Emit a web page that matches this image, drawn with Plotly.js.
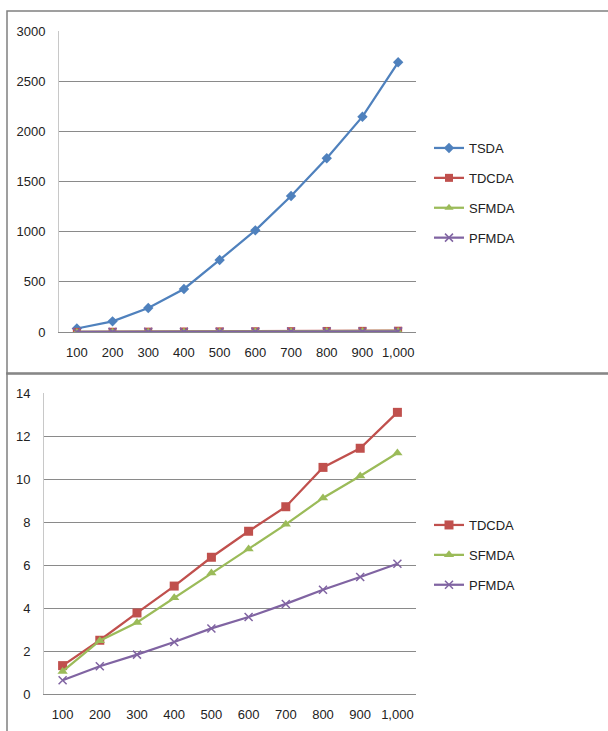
<!DOCTYPE html>
<html>
<head>
<meta charset="utf-8">
<script src="https://cdn.plot.ly/plotly-3.0.1.min.js"></script>
<style>html,body{margin:0;padding:0;background:#fff;}#chart{width:608px;height:731px;}</style>
</head>
<body>
<div id="chart"></div>
<script>
// ---- data ----
const categories = ['100','200','300','400','500','600','700','800','900','1,000'];
const tsda  = [35, 106, 239, 429, 718, 1013, 1355, 1731, 2146, 2688];
const tdcda = [1.32, 2.50, 3.77, 5.02, 6.36, 7.57, 8.71, 10.54, 11.43, 13.10];
const sfmda = [1.05, 2.48, 3.33, 4.48, 5.63, 6.74, 7.89, 9.12, 10.14, 11.21];
const pfmda = [0.64, 1.29, 1.83, 2.42, 3.05, 3.58, 4.19, 4.85, 5.44, 6.06];
const topYTicks = [0, 500, 1000, 1500, 2000, 2500, 3000];
const bottomYTicks = [0, 2, 4, 6, 8, 10, 12, 14];

// ---- styles ----
const C = {tsda:'#4F81BD', tdcda:'#C0504D', sfmda:'#9BBB59', pfmda:'#8064A2'};
const W = 608, H = 731;
const px = v => v / W;
const py = v => 1 - v / H;
const FONT = {family:'"Liberation Sans", Arial, sans-serif', size:13, color:'#222'};

function series(name, y, color, symbol, xa, ya, leg, grp, size) {
  const m = {symbol:symbol, size:size, color:color};
  if (symbol.indexOf('x-thin') === 0) { m.line = {color:color, width:1.5}; }
  return {
    type:'scatter', mode:'lines+markers', name:name, x:categories, y:y,
    xaxis:xa, yaxis:ya, legend:leg, legendgroup:grp,
    line:{color:color, width:2.25}, marker:m
  };
}

const data = [
  series('TSDA',  tsda,  C.tsda,  'diamond',     'x',  'y',  'legend',  'a1', 8),
  series('TDCDA', tdcda, C.tdcda, 'square',      'x',  'y',  'legend',  'a2', 8),
  series('SFMDA', sfmda, C.sfmda, 'triangle-up', 'x',  'y',  'legend',  'a3', 8),
  series('PFMDA', pfmda, C.pfmda, 'x-thin',      'x',  'y',  'legend',  'a4', 8),
  series('TDCDA', tdcda, C.tdcda, 'square',      'x2', 'y2', 'legend2', 'b2', 9),
  series('SFMDA', sfmda, C.sfmda, 'triangle-up', 'x2', 'y2', 'legend2', 'b3', 9),
  series('PFMDA', pfmda, C.pfmda, 'x-thin',      'x2', 'y2', 'legend2', 'b4', 8)
];

const xBase = {
  type:'category', categoryarray:categories, range:[-0.5, 9.5],
  showgrid:false, zeroline:false, showline:true, linecolor:'#8a8a8a', linewidth:1,
  ticks:'', ticklabelstandoff:8, tickfont:FONT, fixedrange:true
};
const yBase = {
  showgrid:true, gridcolor:'#8a8a8a', gridwidth:1, zeroline:false,
  showline:true, linecolor:'#c8c8c8', linewidth:1, ticks:'',
  ticklabelstandoff:10, tickfont:FONT, fixedrange:true
};

const layout = {
  width:W, height:H, margin:{l:0, r:0, t:0, b:0},
  paper_bgcolor:'#fff', plot_bgcolor:'rgba(0,0,0,0)', font:FONT,
  showlegend:true,
  xaxis: Object.assign({}, xBase, {domain:[px(59), px(416)], anchor:'y'}),
  yaxis: Object.assign({}, yBase, {domain:[py(332), py(31)], anchor:'x', range:[0, 3000], tickvals:topYTicks}),
  xaxis2: Object.assign({}, xBase, {domain:[px(44), px(416)], anchor:'y2'}),
  yaxis2: Object.assign({}, yBase, {domain:[py(694), py(393)], anchor:'x2', range:[0, 14], tickvals:bottomYTicks}),
  legend: {x:px(429), xanchor:'left', y:py(193), yanchor:'middle', traceorder:'grouped', tracegroupgap:10,
           font:FONT, bgcolor:'rgba(0,0,0,0)', itemwidth:30},
  legend2:{x:px(429), xanchor:'left', y:py(555), yanchor:'middle', traceorder:'grouped', tracegroupgap:10,
           font:FONT, bgcolor:'rgba(0,0,0,0)', itemwidth:30},
  shapes:[
    {type:'rect', xref:'paper', yref:'paper', x0:px(7), x1:1.02, y0:py(374), y1:py(11),
     line:{color:'#808080', width:1.5}, fillcolor:'rgba(0,0,0,0)', layer:'below'},
    {type:'rect', xref:'paper', yref:'paper', x0:px(7), x1:1.02, y0:-0.02, y1:py(373),
     line:{color:'#808080', width:1.5}, fillcolor:'rgba(0,0,0,0)', layer:'below'}
  ]
};

Plotly.newPlot('chart', data, layout, {staticPlot:true, displayModeBar:false});
</script>
</body>
</html>
